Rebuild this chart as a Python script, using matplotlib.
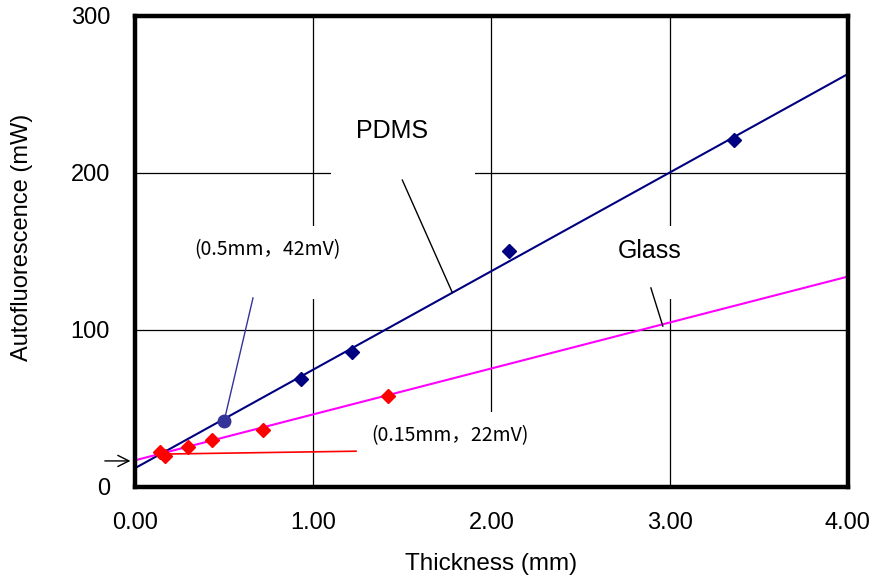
"""
Autofluorescence vs thickness, PDMS and glass
"""
import matplotlib
matplotlib.use('Agg')
import matplotlib.pyplot as plt
from matplotlib.patches import Rectangle

# ---------------------------------------------------------------------------------------------------------------------
# Data
# ---------------------------------------------------------------------------------------------------------------------
pdms_x = [0.93, 1.22, 2.10, 3.36]
pdms_y = [69, 86, 150, 221]
pdms_fit_x = [0.0, 4.0]
pdms_fit_y = [12, 263]

glass_x = [0.14, 0.17, 0.30, 0.43, 0.72, 1.42]
glass_y = [22, 20, 25.5, 30, 36, 58]
glass_fit_x = [0.0, 4.0]
glass_fit_y = [17, 134]

red_line_x = [0.18, 1.24]
red_line_y = [21, 22.8]

point_x = [0.5]
point_y = [42]

xticks = [0, 1, 2, 3, 4]
xtick_labels = ['0.00', '1.00', '2.00', '3.00', '4.00']
yticks = [0, 100, 200, 300]
ytick_labels = ['0', '100', '200', '300']

# ---------------------------------------------------------------------------------------------------------------------
# Figure
# ---------------------------------------------------------------------------------------------------------------------
fig = plt.figure(figsize=(8.74, 5.81), dpi=100)
ax = fig.add_axes([0.1545, 0.1618, 0.8155, 0.8107])
ax.set_xlim(0, 4)
ax.set_ylim(0, 300)

sans = ['Liberation Sans', 'DejaVu Sans']
jp = ['Noto Sans CJK JP', 'DejaVu Sans']

# grid
for xv in xticks[1:-1]:
    ax.axvline(xv, color='black', lw=0.9, zorder=1)
for yv in yticks[1:-1]:
    ax.axhline(yv, color='black', lw=0.9, zorder=1)

# white boxes behind labels (they cut the grid)
for (x0, y0, w, h) in [(1.10, 197, 0.81, 60), (0.31, 120, 0.91, 46),
                       (2.60, 120, 0.62, 46), (1.30, 0, 1.00, 48)]:
    ax.add_patch(Rectangle((x0, y0), w, h, facecolor='white', edgecolor='none', zorder=1.5))

# fits and data
ax.plot(pdms_fit_x, pdms_fit_y, color='#000080', lw=1.5, zorder=3)
ax.plot(glass_fit_x, glass_fit_y, color='#FF00FF', lw=1.5, zorder=3)
ax.plot(red_line_x, red_line_y, color='#FF0000', lw=1.2, zorder=3)
ax.plot(pdms_x, pdms_y, 'D', color='#000080', ms=7, zorder=4)
ax.plot(glass_x, glass_y, 'D', color='#FF0000', ms=7.5, zorder=4)

# marked point with leader
ax.plot([0.5, 0.662], [42, 120.4], color='#333399', lw=1, zorder=3)
ax.plot(point_x, point_y, 'o', color='#333399', ms=9, zorder=5)

# leaders for series labels
ax.plot([1.50, 1.78], [195.5, 124], color='black', lw=1, zorder=3)
ax.plot([2.895, 2.962], [126.8, 102.5], color='black', lw=1, zorder=3)

ax.text(1.44, 227, 'PDMS', fontsize=18, family=sans, ha='center', va='center', zorder=6)
ax.text(2.89, 150, 'Glass', fontsize=18, family=sans, ha='center', va='center', zorder=6)
ax.text(0.745, 151, '(0.5mm，42mV)', fontsize=14, family=jp, ha='center', va='center', zorder=6)
ax.text(1.767, 32.5, '(0.15mm，22mV)', fontsize=14, family=jp, ha='center', va='center', zorder=6)

# arrow at the intercept
ax.annotate('', xy=(-0.01, 16.6), xytext=(-0.185, 16.6),
            arrowprops=dict(arrowstyle='->', color='black', lw=1, mutation_scale=20),
            annotation_clip=False)

# axes
for s in ax.spines.values():
    s.set_linewidth(3.2)
    s.set_zorder(7)
ax.set_xticks(xticks)
ax.set_xticklabels(xtick_labels, family=sans, fontsize=17)
ax.set_yticks(yticks)
ax.set_yticklabels(ytick_labels, family=sans, fontsize=17)
ax.tick_params(axis='x', length=0, pad=18)
ax.tick_params(axis='y', length=0, pad=18)
ax.set_xlabel('Thickness (mm)', family=sans, fontsize=17.5, labelpad=14)
ax.set_ylabel('Autofluorescence (mW)', family=sans, fontsize=17)
ax.yaxis.set_label_coords(-0.143, 0.53)

fig.savefig('out.png', dpi=100)
